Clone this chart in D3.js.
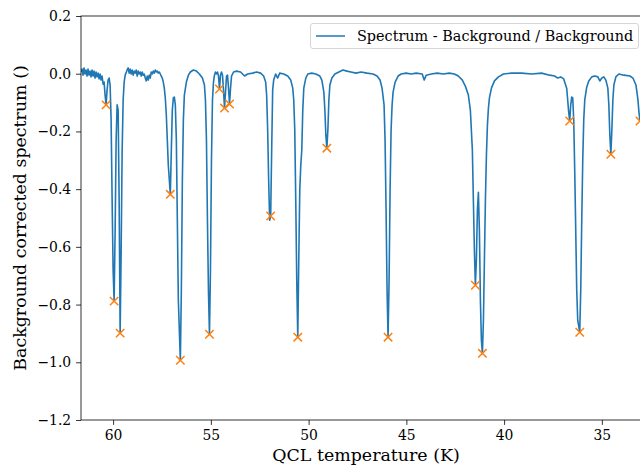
<!DOCTYPE html>
<html>
<head>
<meta charset="utf-8">
<script src="https://cdn.jsdelivr.net/npm/d3@7"></script>
<style>
  html, body { margin: 0; padding: 0; background: #fff; }
  svg { display: block; font-family: "DejaVu Serif", serif; }
  text { font-family: "DejaVu Serif", serif; }
</style>
</head>
<body>
<svg id="chart" width="640" height="465"></svg>
<script>
// ---- DATA ----
const temperature = [
  61.643,61.591,61.540,61.489,61.437,61.386,61.335,61.283,61.232,61.181,61.129,61.078,61.027,60.975,60.924,60.873,60.821,60.770,60.719,60.667,60.616,60.565,
  60.513,60.462,60.411,60.359,60.308,60.257,60.205,60.154,60.103,60.051,60.000,59.949,59.897,59.846,59.795,59.743,59.692,59.641,59.589,59.538,59.487,59.435,59.384,59.281,
  59.230,59.179,59.127,59.076,59.025,58.973,58.922,58.871,58.819,58.768,58.717,58.665,58.614,58.563,58.511,58.460,58.409,58.357,58.306,58.255,58.203,58.152,58.101,58.049,
  57.998,57.947,57.895,57.844,57.793,57.741,57.690,57.639,57.587,57.536,57.485,57.433,57.382,57.331,57.279,57.228,57.177,57.074,57.023,56.972,56.920,56.869,56.818,56.766,
  56.715,56.664,56.561,56.510,56.458,56.407,56.356,56.253,56.150,56.048,55.894,55.740,55.586,55.432,55.329,55.278,55.226,55.175,55.124,55.072,55.021,54.970,54.918,54.867,
  54.816,54.764,54.713,54.662,54.610,54.559,54.508,54.456,54.405,54.354,54.302,54.251,54.200,54.148,54.097,54.046,53.994,53.943,53.840,53.687,53.481,53.276,53.122,52.865,
  52.660,52.455,52.301,52.198,52.147,52.095,52.044,51.993,51.941,51.890,51.839,51.787,51.685,51.582,51.479,51.274,51.069,50.915,50.812,50.761,50.709,50.658,50.607,50.555,
  50.504,50.453,50.401,50.350,50.299,50.247,50.145,50.042,49.837,49.631,49.426,49.323,49.221,49.169,49.118,49.067,49.015,48.964,48.913,48.810,48.656,48.451,48.245,48.040,
  47.835,47.578,47.321,47.013,46.706,46.500,46.346,46.244,46.141,46.090,46.038,45.987,45.936,45.884,45.833,45.782,45.730,45.679,45.576,45.422,45.268,45.012,44.755,44.498,
  44.190,44.087,43.985,43.728,43.420,43.112,42.804,42.548,42.342,42.137,41.983,41.829,41.727,41.624,41.573,41.521,41.470,41.419,41.367,41.316,41.265,41.213,41.162,41.111,
  41.059,41.008,40.957,40.905,40.854,40.803,40.751,40.649,40.495,40.289,40.033,39.622,39.109,38.596,38.082,37.672,37.415,37.261,37.107,36.953,36.799,36.748,36.697,36.645,
  36.594,36.543,36.491,36.440,36.389,36.337,36.286,36.235,36.132,36.081,36.029,35.978,35.927,35.875,35.773,35.670,35.516,35.362,35.208,35.105,35.002,34.900,34.797,34.694,
  34.643,34.592,34.540,34.489,34.438,34.386,34.284,34.130,33.873,33.565,33.411,33.257,33.154,33.103,33.052
];
const spectrum = [
  0.006,0.016,-0.005,0.020,-0.001,0.013,-0.008,0.016,-0.005,0.009,-0.011,0.013,-0.008,0.009,-0.015,0.006,-0.011,0.002,-0.018,-0.001,-0.022,-0.008,
  -0.036,-0.029,-0.074,-0.108,-0.056,-0.022,-0.015,-0.039,-0.160,-0.438,-0.681,-0.788,-0.543,-0.230,-0.108,-0.126,-0.438,-0.899,-0.611,-0.265,-0.091,-0.029,-0.005,0.013,
  0.020,0.002,0.016,-0.001,0.013,-0.005,0.009,0.002,0.013,-0.008,0.009,-0.001,0.006,-0.008,0.006,-0.005,-0.001,-0.015,-0.025,-0.008,-0.022,-0.005,-0.015,0.006,
  -0.001,0.009,0.002,0.013,0.006,0.009,0.002,0.006,-0.001,-0.008,-0.015,-0.029,-0.050,-0.084,-0.143,-0.230,-0.317,-0.418,-0.265,-0.126,-0.084,-0.081,-0.108,-0.230,
  -0.508,-0.785,-0.993,-0.750,-0.368,-0.160,-0.074,-0.029,-0.005,0.006,0.013,0.009,-0.001,-0.015,-0.039,-0.091,-0.230,-0.508,-0.751,-0.903,-0.681,-0.300,-0.091,-0.029,
  -0.005,0.006,-0.001,0.006,-0.008,-0.053,-0.005,0.006,-0.005,-0.056,-0.119,-0.064,-0.008,-0.005,-0.050,-0.105,-0.050,-0.008,0.006,0.009,0.006,-0.008,-0.001,0.002,
  0.006,0.002,-0.008,-0.029,-0.074,-0.195,-0.368,-0.508,-0.493,-0.265,-0.056,-0.022,-0.001,-0.015,0.002,-0.001,-0.008,-0.022,-0.050,-0.091,-0.195,-0.438,-0.715,-0.913,
  -0.646,-0.403,-0.317,-0.265,-0.126,-0.050,-0.015,-0.001,0.002,-0.001,-0.008,-0.022,-0.064,-0.126,-0.213,-0.258,-0.195,-0.091,-0.039,-0.015,-0.001,0.006,0.013,0.009,
  0.006,0.002,0.006,0.002,-0.001,-0.008,-0.022,-0.050,-0.108,-0.230,-0.473,-0.750,-0.913,-0.715,-0.403,-0.195,-0.108,-0.064,-0.029,-0.008,-0.001,0.002,-0.001,0.002,
  -0.001,-0.022,-0.005,-0.001,0.002,-0.001,0.002,-0.001,-0.008,-0.022,-0.043,-0.074,-0.126,-0.265,-0.438,-0.611,-0.733,-0.646,-0.473,-0.411,-0.542,-0.785,-0.923,-0.969,
  -0.854,-0.646,-0.438,-0.282,-0.178,-0.119,-0.084,-0.050,-0.025,-0.011,-0.001,0.002,0.002,-0.001,0.002,-0.005,-0.008,-0.015,-0.011,-0.018,-0.050,-0.091,-0.133,-0.164,
  -0.109,-0.081,-0.084,-0.160,-0.334,-0.542,-0.750,-0.854,-0.896,-0.750,-0.508,-0.300,-0.160,-0.091,-0.046,-0.025,-0.011,-0.008,-0.011,-0.025,-0.015,-0.011,-0.022,-0.050,
  -0.108,-0.213,-0.279,-0.195,-0.091,-0.039,-0.011,-0.001,-0.005,-0.008,-0.015,-0.039,-0.091,-0.133,-0.164
];
const peakTemperature = [60.359,59.949,59.641,57.074,56.561,55.072,54.559,54.302,54.046,51.941,50.555,49.067,45.936,41.470,41.111,36.645,36.132,34.540,33.052];
const peakValue = [-0.108,-0.788,-0.899,-0.418,-0.993,-0.903,-0.053,-0.119,-0.105,-0.493,-0.913,-0.258,-0.913,-0.733,-0.969,-0.164,-0.896,-0.279,-0.164];
const xTicks = [60,55,50,45,40,35];
const yTicks = [0.2,0.0,-0.2,-0.4,-0.6,-0.8,-1.0,-1.2];
const xDomain = [61.643, 32.845];
const yDomain = [-1.2, 0.2];
const seriesLabel = "Spectrum - Background / Background";
const xLabel = "QCL temperature (K)";
const yLabel = "Background corrected spectrum ()";

// ---- LAYOUT ----
const FONT = "DejaVu Serif";
const L = 81, T = 16, R = 644, B = 420;
const svg = d3.select("#chart");
const x = d3.scaleLinear().domain(xDomain).range([L, R]);
const y = d3.scaleLinear().domain(yDomain).range([B, T]);

svg.append("defs").append("clipPath").attr("id","clip")
  .append("rect").attr("x", L).attr("y", T).attr("width", R-L).attr("height", B-T);

const pts = temperature.map((t,i)=>[t, spectrum[i]]);
const line = d3.line().x(d=>x(d[0])).y(d=>y(d[1]));
const g = svg.append("g").attr("clip-path","url(#clip)");
g.append("path").datum(pts).attr("d", line)
  .attr("fill","none").attr("stroke","#1f77b4").attr("stroke-width",1.6)
  .attr("stroke-linejoin","round");

const peaks = peakTemperature.map((t,i)=>[t, peakValue[i]]);
const ms = 4.2;
svg.append("g").selectAll("path").data(peaks).join("path")
  .attr("d", d=>{const cx=x(d[0]), cy=y(d[1]);
    return `M${cx-ms},${cy-ms}L${cx+ms},${cy+ms}M${cx-ms},${cy+ms}L${cx+ms},${cy-ms}`;})
  .attr("stroke","#ff7f0e").attr("stroke-width",1.5).attr("fill","none");

// axes
const fmtY = d => d3.format(".1f")(d).replace("-", "\u2212");
const xAxis = d3.axisBottom(x).tickValues(xTicks).tickFormat(d3.format("d")).tickSize(4.9).tickPadding(4.9);
const yAxis = d3.axisLeft(y).tickValues(yTicks).tickFormat(fmtY).tickSize(4.9).tickPadding(4.9);
const gx = svg.append("g").attr("transform",`translate(0,${B})`).call(xAxis);
const gy = svg.append("g").attr("transform",`translate(${L},0)`).call(yAxis);
[gx, gy].forEach(a=>{
  a.attr("font-family", FONT);
  a.select(".domain").remove();
  a.selectAll(".tick line").attr("stroke","#000").attr("stroke-width",0.8);
  a.selectAll(".tick text").attr("fill","#000").attr("font-family", FONT).attr("font-size","13.9px");
});
// spines
svg.append("rect").attr("x",L).attr("y",T).attr("width",R-L).attr("height",B-T)
  .attr("fill","none").attr("stroke","#000").attr("stroke-width",0.8);

// labels
svg.append("text").attr("x",366).attr("y",461).attr("text-anchor","middle")
  .attr("font-family", FONT).attr("font-size","17.4px").text(xLabel);
svg.append("text").attr("transform",`translate(26,${(T+B)/2}) rotate(-90)`).attr("text-anchor","middle")
  .attr("font-family", FONT).attr("font-size","17.4px").text(yLabel);

// legend
const lg = svg.append("g");
lg.append("rect").attr("x",310.5).attr("y",23.5).attr("width",328).attr("height",25).attr("rx",2.5)
  .attr("fill","#fff").attr("fill-opacity",0.8).attr("stroke","#ccc").attr("stroke-width",0.8);
lg.append("line").attr("x1",316).attr("x2",345).attr("y1",36).attr("y2",36)
  .attr("stroke","#1f77b4").attr("stroke-width",1.5);
lg.append("text").attr("x",357).attr("y",41).attr("font-family", FONT).attr("font-size","14.4px").text(seriesLabel);
</script>
</body>
</html>
